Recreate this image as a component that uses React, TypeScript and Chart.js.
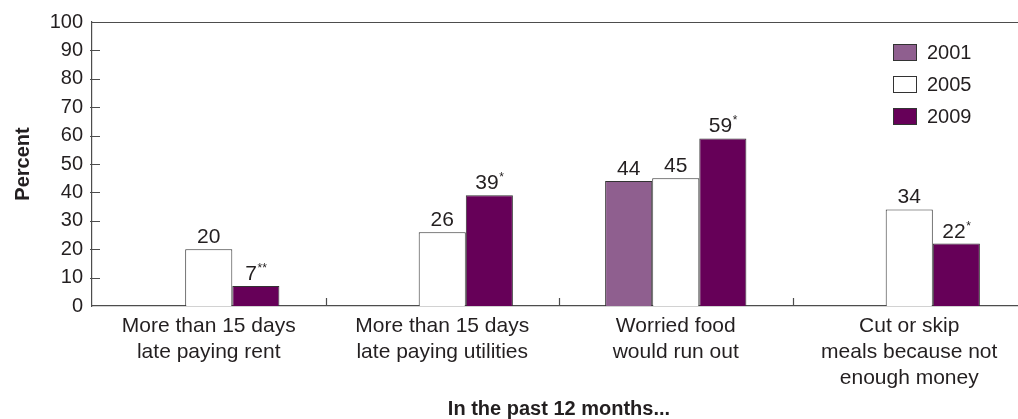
import { useEffect, useRef } from "react";
import { Chart, registerables } from "chart.js";

Chart.register(...registerables);

// Survey categories (multi-line axis labels)
const categories: string[][] = [
  ["More than 15 days", "late paying rent"],
  ["More than 15 days", "late paying utilities"],
  ["Worried food", "would run out"],
  ["Cut or skip", "meals because not", "enough money"],
];

const years = ["2001", "2005", "2009"];

// Percent of respondents by year
const values2001: (number | null)[] = [null, null, 44, null];
const values2005: (number | null)[] = [20, 26, 45, 34];
const values2009: (number | null)[] = [7, 39, 59, 22];

// Significance markers shown as superscripts after the value
const marks2001 = ["", "", "", ""];
const marks2005 = ["", "", "", ""];
const marks2009 = ["**", "*", "*", "*"];

const yMin = 0;
const yMax = 100;
const yStep = 10;

const FONT = "'Liberation Sans', Arial, Helvetica, sans-serif";
const TEXT = "#231f20";
const LINE = "#4d4d4d";
const EDGE = "#333333";

const seriesColors = ["#8f5f8f", "#ffffff", "#660058"];
const seriesValues = [values2001, values2005, values2009];
const seriesMarks = [marks2001, marks2005, marks2009];

// Top border plus inward-pointing ticks on both axes
const framePlugin = {
  id: "frame",
  beforeDatasetsDraw(chart: any) {
    const { ctx, chartArea } = chart;
    const y = chart.scales.y;
    const x = chart.scales.x;
    ctx.save();
    ctx.strokeStyle = LINE;
    ctx.lineWidth = 1.2;
    ctx.beginPath();
    ctx.moveTo(chartArea.left, chartArea.top + 0.5);
    ctx.lineTo(chartArea.right, chartArea.top + 0.5);
    y.ticks.forEach((t: any) => {
      if (t.value <= yMin || t.value >= yMax) return;
      const py = Math.round(y.getPixelForValue(t.value)) + 0.5;
      ctx.moveTo(chartArea.left - 2, py);
      ctx.lineTo(chartArea.left + 8, py);
    });
    for (let i = 1; i < categories.length; i++) {
      const px = Math.round(x.getPixelForValue(i - 0.5)) + 0.5;
      ctx.moveTo(px, chartArea.bottom);
      ctx.lineTo(px, chartArea.bottom - 8);
    }
    ctx.stroke();
    ctx.restore();
  },
};

// Value labels with superscript markers above each bar
const valueLabelPlugin = {
  id: "valueLabels",
  afterDatasetsDraw(chart: any) {
    const { ctx } = chart;
    ctx.save();
    chart.data.datasets.forEach((ds: any, d: number) => {
      const meta = chart.getDatasetMeta(d);
      meta.data.forEach((el: any, i: number) => {
        const v = ds.data[i];
        if (v === null || v === undefined) return;
        const num = String(v);
        const mark = seriesMarks[d][i];
        ctx.font = `21px ${FONT}`;
        const wNum = ctx.measureText(num).width;
        ctx.font = `12px ${FONT}`;
        const wMark = mark ? ctx.measureText(mark).width : 0;
        const start = el.x - (wNum + wMark) / 2;
        const base = el.y - 6;
        ctx.fillStyle = TEXT;
        ctx.textAlign = "left";
        ctx.textBaseline = "alphabetic";
        ctx.font = `21px ${FONT}`;
        ctx.fillText(num, start, base);
        if (mark) {
          ctx.font = `12px ${FONT}`;
          ctx.fillText(mark, start + wNum + 0.5, base - 8);
        }
      });
    });
    ctx.restore();
  },
};

// Legend boxes inside the upper-right of the plot
const legendPlugin = {
  id: "boxLegend",
  afterDraw(chart: any) {
    const { ctx, chartArea } = chart;
    ctx.save();
    chart.data.datasets.forEach((ds: any, d: number) => {
      const sx = chartArea.right - 133;
      const sy = chartArea.top + 22 + d * 32;
      ctx.fillStyle = ds.backgroundColor;
      ctx.fillRect(sx, sy, 24, 17);
      ctx.strokeStyle = EDGE;
      ctx.lineWidth = 1;
      ctx.strokeRect(sx + 0.5, sy + 0.5, 23, 16);
      ctx.fillStyle = TEXT;
      ctx.font = `20px ${FONT}`;
      ctx.textAlign = "left";
      ctx.textBaseline = "middle";
      ctx.fillText(ds.label, sx + 34, sy + 9);
    });
    ctx.restore();
  },
};

export default function App() {
  const canvasRef = useRef<HTMLCanvasElement | null>(null);

  useEffect(() => {
    const canvas = canvasRef.current;
    if (!canvas) return;
    Chart.defaults.font.family = FONT;
    Chart.defaults.color = TEXT;

    const chart = new Chart(canvas, {
      type: "bar",
      data: {
        labels: categories,
        datasets: years.map((yr, d) => ({
          label: yr,
          data: seriesValues[d],
          backgroundColor: seriesColors[d],
          borderColor: EDGE,
          borderWidth: 1,
          categoryPercentage: 0.605,
          barPercentage: 1,
        })),
      },
      options: {
        responsive: false,
        animation: false,
        layout: { padding: { top: 22, right: 14, left: 0, bottom: 0 } },
        plugins: {
          legend: { display: false },
          tooltip: { enabled: false },
        },
        scales: {
          x: {
            grid: { display: false, drawTicks: false },
            border: { display: true, color: LINE, width: 1.2 },
            ticks: {
              font: { size: 21, lineHeight: 1.24 },
              color: TEXT,
              padding: 7,
              maxRotation: 0,
              autoSkip: false,
            },
            title: {
              display: true,
              text: "In the past 12 months...",
              font: { size: 20, weight: "bold", lineHeight: 1 },
              color: TEXT,
              padding: { top: 0, bottom: 0 },
            },
            afterFit(scale: any) {
              scale.height = 113;
            },
          },
          y: {
            min: yMin,
            max: yMax,
            ticks: {
              stepSize: yStep,
              font: { size: 20 },
              color: TEXT,
              padding: 9,
            },
            grid: { display: false, drawTicks: false },
            border: { display: true, color: LINE, width: 1.2 },
            title: {
              display: true,
              text: "Percent",
              font: { size: 20, weight: "bold", lineHeight: 1 },
              color: TEXT,
              padding: { top: 13, bottom: 0 },
            },
            afterFit(scale: any) {
              scale.width = 92;
            },
          },
        },
      } as any,
      plugins: [framePlugin, valueLabelPlugin, legendPlugin],
    });

    return () => chart.destroy();
  }, []);

  return (
    <div
      style={{
        position: "fixed",
        left: 0,
        top: 0,
        width: 1018,
        height: 419,
        overflow: "hidden",
        background: "#ffffff",
      }}
    >
      <canvas ref={canvasRef} width={1040} height={419} style={{ display: "block" }} />
    </div>
  );
}
